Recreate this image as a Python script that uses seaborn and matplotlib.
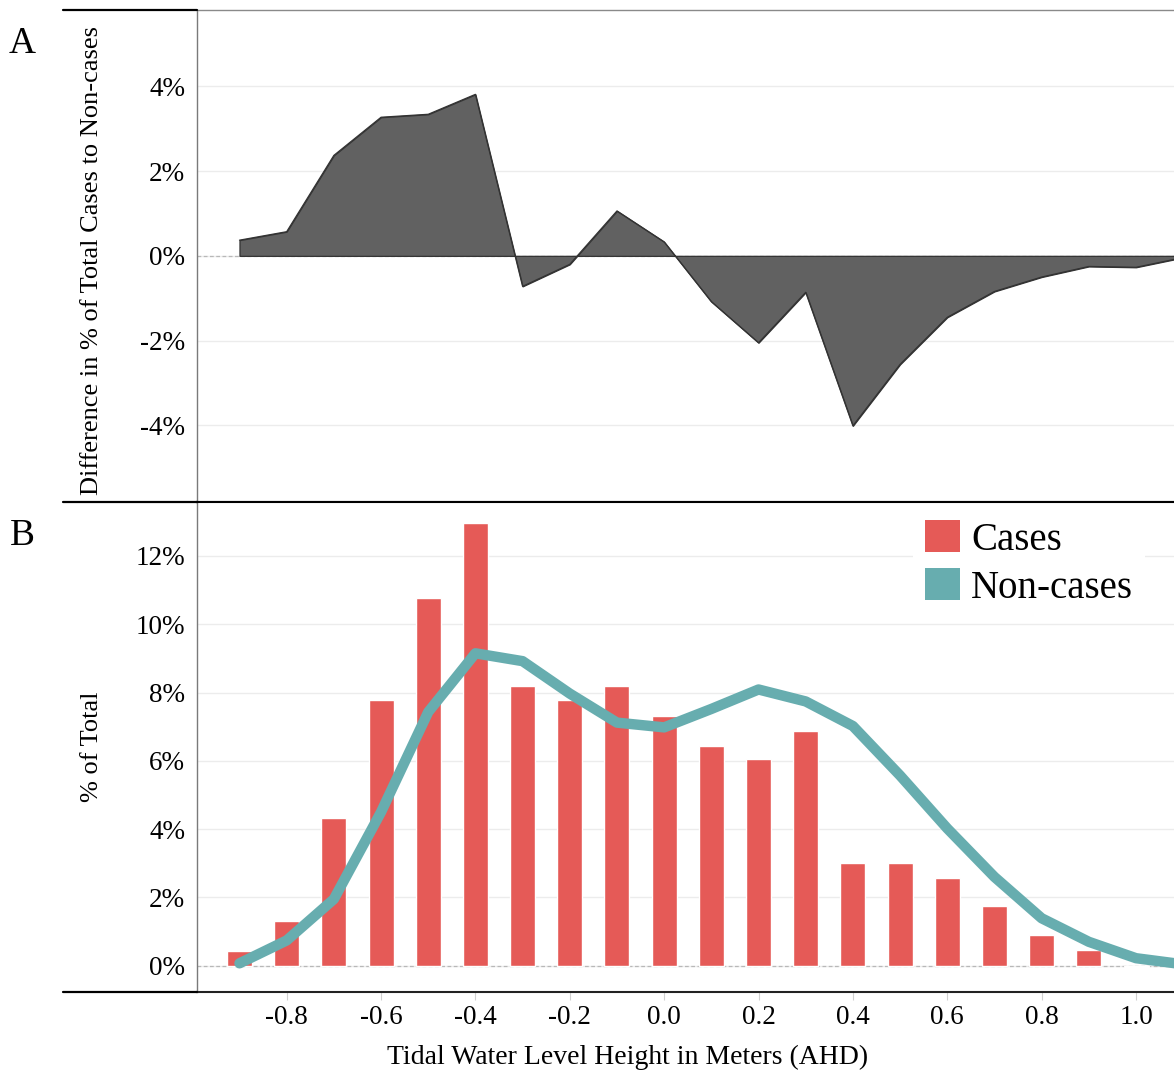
import matplotlib
matplotlib.use("Agg")
import matplotlib.pyplot as plt
import numpy as np
import pandas as pd
import seaborn as sns
from matplotlib.lines import Line2D
from matplotlib.patches import Patch
from matplotlib.ticker import FixedLocator, FuncFormatter

# Tidal water level bins (m, AHD)
tide_levels = [-0.9, -0.8, -0.7, -0.6, -0.5, -0.4, -0.3, -0.2, -0.1, 0.0,
               0.1, 0.2, 0.3, 0.4, 0.5, 0.6, 0.7, 0.8, 0.9, 1.0, 1.1]
# Share of all cases falling in each bin (%)
cases_pct = [0.44, 1.31, 4.32, 7.77, 10.77, 12.96, 8.20, 7.77, 8.18, 7.31,
             6.44, 6.04, 6.88, 3.01, 3.01, 2.57, 1.76, 0.89, 0.45, -0.05, 0.0]
# Share of all non-cases falling in each bin (%)
noncases_pct = [0.07, 0.74, 1.95, 4.50, 7.43, 9.15, 8.92, 7.97, 7.12, 6.98,
                7.52, 8.09, 7.74, 7.02, 5.57, 4.02, 2.60, 1.39, 0.70, 0.22, 0.04]

legend_labels = ["Cases", "Non-cases"]
diff_ticks = [-4, -2, 0, 2, 4]
pct_ticks = [0, 2, 4, 6, 8, 10, 12]
level_ticks = [-0.8, -0.6, -0.4, -0.2, 0.0, 0.2, 0.4, 0.6, 0.8, 1.0]

CASE_RED = "#E55A57"
NONCASE_TEAL = "#67ADAF"
AREA_GREY = "#616161"
GRID = "#ececec"

sns.set_theme(style="white")
plt.rcParams["font.family"] = ["Liberation Serif", "DejaVu Serif"]
plt.rcParams["text.color"] = "black"
plt.rcParams["axes.labelcolor"] = "black"
plt.rcParams["xtick.color"] = "black"
plt.rcParams["ytick.color"] = "black"

df = pd.DataFrame({"level": tide_levels, "cases": cases_pct,
                   "noncases": noncases_pct})
df["diff"] = df["cases"] - df["noncases"]

W, H = 1174, 1074
fig = plt.figure(figsize=(W / 100, H / 100), dpi=100)


def fx(px):
    return px / W


def fy(py):
    return 1 - py / H


LEFT = 197.3
axA = fig.add_axes([fx(LEFT), fy(501.7), 1 - fx(LEFT), fy(10) - fy(501.7)])
axB = fig.add_axes([fx(LEFT), fy(992), 1 - fx(LEFT), fy(501.7) - fy(992)])

XLIM = (-0.9894, 1.0805)
TICK_FS = 19.5
LABEL_FS = 19
pct_fmt = FuncFormatter(lambda v, _: f"{int(round(v))}%")

# ---- Panel A: difference between case and non-case distributions ----
axA.axhline(0, color="#b8b8b8", lw=0.9, ls=(0, (3, 2)), zorder=1)
axA.fill_between(df["level"], 0, df["diff"], facecolor=AREA_GREY,
                 edgecolor="#333333", lw=0.9, zorder=2)
sns.lineplot(data=df, x="level", y="diff", color="#333333", lw=0.9,
             ax=axA, zorder=3)
axA.set_xlim(*XLIM)
axA.set_ylim(-5.8, 5.8)
axA.yaxis.set_major_locator(FixedLocator(diff_ticks))
axA.yaxis.set_major_formatter(pct_fmt)
axA.yaxis.grid(True, color=GRID, lw=1.0)
axA.set_axisbelow(True)
axA.tick_params(axis="x", bottom=False, labelbottom=False)
axA.tick_params(axis="y", length=0, pad=8.6, labelsize=TICK_FS)
axA.set_xlabel("")
axA.set_ylabel("Difference in % of Total Cases to Non-cases",
               fontsize=LABEL_FS)
axA.yaxis.set_label_coords((103 - LEFT) / (W - LEFT), 0.49)

# ---- Panel B: distributions of cases (bars) and non-cases (line) ----
axB.axhline(0, color="#b8b8b8", lw=0.9, ls=(0, (3, 2)), zorder=1)
sns.barplot(data=df, x="level", y="cases", native_scale=True, width=0.53,
            color=CASE_RED, saturation=1, errorbar=None, ax=axB, zorder=2)
sns.lineplot(data=df, x="level", y="noncases", color=NONCASE_TEAL, lw=7.5,
             ax=axB, zorder=3, solid_capstyle="round",
             solid_joinstyle="round")
axB.set_xlim(*XLIM)
axB.set_ylim(-0.77, 13.59)
axB.yaxis.set_major_locator(FixedLocator(pct_ticks))
axB.yaxis.set_major_formatter(pct_fmt)
axB.xaxis.set_major_locator(FixedLocator(level_ticks))
axB.xaxis.set_major_formatter(
    FuncFormatter(lambda v, _: f"{round(v, 1) + 0.0:.1f}"))
axB.yaxis.grid(True, color=GRID, lw=1.0)
axB.set_axisbelow(True)
axB.tick_params(axis="y", length=0, pad=8.6, labelsize=TICK_FS)
axB.tick_params(axis="x", bottom=True, length=5.5, width=0.8,
                color="#d0d0d0", pad=4, labelsize=TICK_FS, direction="out")
axB.set_ylabel("% of Total", fontsize=LABEL_FS)
axB.yaxis.set_label_coords((103 - LEFT) / (W - LEFT), 0.5)
axB.set_xlabel("Tidal Water Level Height in Meters (AHD)", fontsize=20)
axB.xaxis.set_label_coords((628 - LEFT) / (W - LEFT), -0.108)

handles = [Patch(facecolor=CASE_RED, edgecolor="none"),
           Patch(facecolor=NONCASE_TEAL, edgecolor="none")]
axB.legend(handles, legend_labels, loc="upper left",
           bbox_to_anchor=((913 - LEFT) / (W - LEFT), 0.986),
           fontsize=28, frameon=True, facecolor="white", edgecolor="none",
           framealpha=1, fancybox=False, handlelength=0.9,
           handleheight=0.88, handletextpad=0.3, labelspacing=0.25,
           borderpad=0.3, borderaxespad=0)

# ---- Frame rules ----
for ax in (axA, axB):
    ax.spines["right"].set_visible(False)
    ax.spines["left"].set_color("#7a7a7a")
    ax.spines["left"].set_linewidth(1.0)
axA.spines["top"].set_color("#8a8a8a")
axA.spines["top"].set_linewidth(1.0)
axA.spines["bottom"].set_color("black")
axA.spines["bottom"].set_linewidth(1.5)
axB.spines["top"].set_color("black")
axB.spines["top"].set_linewidth(1.5)
axB.spines["bottom"].set_color("#222222")
axB.spines["bottom"].set_linewidth(1.5)

fig.add_artist(Line2D([fx(63), fx(LEFT)], [fy(10), fy(10)], color="black",
                      lw=1.6, transform=fig.transFigure))
for yy in (501.7, 992):
    fig.add_artist(Line2D([fx(63), fx(LEFT)], [fy(yy), fy(yy)],
                          color="black", lw=1.6, transform=fig.transFigure))

fig.text(fx(22), fy(44), "A", fontsize=27, ha="center", va="center")
fig.text(fx(22), fy(536), "B", fontsize=27, ha="center", va="center")

fig.savefig("out.png", dpi=100)
